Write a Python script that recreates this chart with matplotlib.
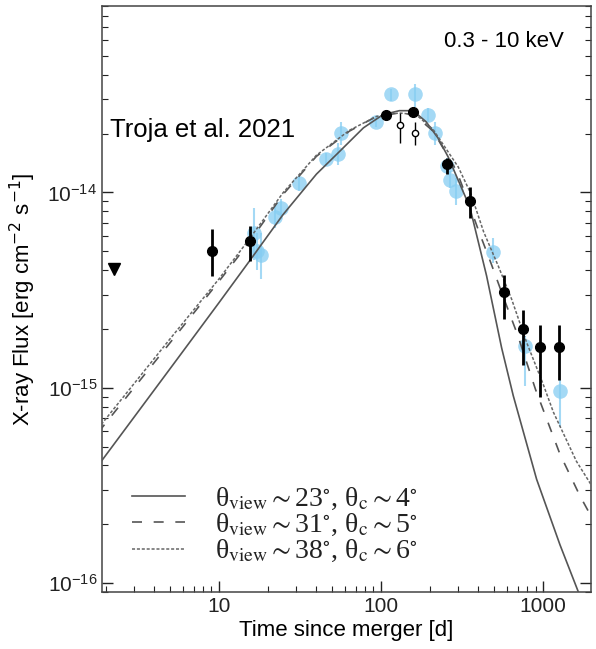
import matplotlib
matplotlib.use("Agg")
import matplotlib.pyplot as plt
from matplotlib.ticker import NullFormatter
import numpy as np

plt.rcParams["font.family"] = ["Liberation Sans", "DejaVu Sans"]

# ---- data ----
# model curves (time [d], flux)
t_solid = [1.8, 5.35, 10, 15.5, 24.9, 40, 56, 78, 103, 130, 158, 190, 225, 260, 354, 449, 556, 656, 914, 1274, 1700]
f_solid = [4.0e-16, 1.35e-15, 2.72e-15, 4.47e-15, 7.7e-15, 1.24e-14, 1.63e-14, 2.14e-14, 2.5e-14, 2.62e-14,
           2.62e-14, 2.3e-14, 1.9e-14, 1.52e-14, 8.4e-15, 3.74e-15, 1.6e-15, 9.1e-16, 3.4e-16, 1.57e-16, 8.5e-17]

t_dash = [1.8, 5, 10, 15, 25, 40, 64, 94, 130, 160, 210, 293, 340, 400, 480, 580, 700, 900, 1270, 1690, 2000]
f_dash = [5.9e-16, 1.7e-15, 3.5e-15, 5.4e-15, 9.8e-15, 1.53e-14, 2.06e-14, 2.45e-14, 2.55e-14, 2.5e-14,
          2.06e-14, 1.29e-14, 9.3e-15, 6.4e-15, 4.3e-15, 2.8e-15, 1.85e-15, 9.8e-16, 4.6e-16, 2.8e-16, 2.17e-16]

t_dot = [1.8, 5, 10, 15, 25, 40, 64, 94, 130, 165, 210, 300, 360, 430, 530, 640, 790, 1000, 1160, 1610, 2000]
f_dot = [6.2e-16, 1.78e-15, 3.6e-15, 5.6e-15, 1.0e-14, 1.55e-14, 2.08e-14, 2.45e-14, 2.55e-14, 2.5e-14,
         2.1e-14, 1.35e-14, 9.8e-15, 6.3e-15, 4.2e-15, 2.85e-15, 1.72e-15, 1.05e-15, 7.5e-16, 4.2e-16, 3.15e-16]

model_labels = [
    r"θ$_{\rm view}\sim$23$^{\circ}$, θ$_{\rm c}\sim$4$^{\circ}$",
    r"θ$_{\rm view}\sim$31$^{\circ}$, θ$_{\rm c}\sim$5$^{\circ}$",
    r"θ$_{\rm view}\sim$38$^{\circ}$, θ$_{\rm c}\sim$6$^{\circ}$",
]

# light blue points (other data set)
t_blue = [16.4, 17.1, 18.3, 22.2, 24.2, 31.2, 46, 54.6, 56.5, 93, 115, 163, 195, 216, 257, 266, 290, 489, 776, 1282]
f_blue = [6.2e-15, 5.0e-15, 4.8e-15, 7.5e-15, 8.3e-15, 1.12e-14, 1.48e-14, 1.57e-14, 2.02e-14, 2.3e-14,
          3.18e-14, 3.18e-14, 2.49e-14, 2.01e-14, 1.36e-14, 1.16e-14, 1.02e-14, 4.94e-15, 1.64e-15, 9.6e-16]
f_blue_lo = [4.5e-15, 4.0e-15, 3.6e-15, 6.6e-15, 7.3e-15, 1.02e-14, 1.36e-14, 1.38e-14, 1.75e-14, 2.15e-14,
             2.95e-14, 2.75e-14, 2.3e-14, 1.75e-14, 1.25e-14, 1.05e-14, 8.6e-15, 4.36e-15, 1.02e-15, 6.3e-16]
f_blue_hi = [8.3e-15, 6.2e-15, 6.2e-15, 8.5e-15, 9.3e-15, 1.22e-14, 1.6e-14, 1.8e-14, 2.3e-14, 2.45e-14,
             3.4e-14, 3.6e-14, 2.7e-14, 2.3e-14, 1.5e-14, 1.28e-14, 1.18e-14, 5.85e-15, 1.85e-15, 1.1e-15]

# black points
t_blk = [9.1, 15.6, 108, 157, 257, 356, 574, 757, 966, 1264]
f_blk = [5.0e-15, 5.62e-15, 2.49e-14, 2.59e-14, 1.40e-14, 9.0e-15, 3.1e-15, 2.01e-15, 1.61e-15, 1.61e-15]
f_blk_lo = [3.73e-15, 4.45e-15, 2.35e-14, 2.45e-14, 1.24e-14, 7.4e-15, 2.24e-15, 1.31e-15, 9.0e-16, 1.1e-15]
f_blk_hi = [6.5e-15, 6.76e-15, 2.64e-14, 2.74e-14, 1.5e-14, 1.06e-14, 3.76e-15, 2.51e-15, 2.1e-15, 2.1e-15]

# open circles
t_open = [132, 163]
f_open = [2.21e-14, 2.01e-14]
f_open_lo = [1.8e-14, 1.75e-14]
f_open_hi = [2.54e-14, 2.3e-14]

# upper limit
t_ul = [2.25]
f_ul = [4.03e-15]

# ---- plot ----
fig = plt.figure(figsize=(5.96, 6.49), dpi=100)
ax = fig.add_axes([102 / 596, 1 - 592 / 649, 489 / 596, 586 / 649])

blue = "#86cdf2"
ax.errorbar(t_blue, f_blue,
            yerr=[np.array(f_blue) - np.array(f_blue_lo), np.array(f_blue_hi) - np.array(f_blue)],
            fmt="o", ms=10.5, color=blue, ecolor=blue, elinewidth=1.5, capsize=0,
            alpha=0.75, mec="none", zorder=2)

line_col = "#555555"
l1, = ax.plot(t_solid, f_solid, "-", color=line_col, lw=1.2, zorder=3)
l2, = ax.plot(t_dash, f_dash, color=line_col, lw=1.2, dashes=(6, 7), zorder=3)
l3, = ax.plot(t_dot, f_dot, color="#666666", lw=1.1, dashes=(2, 1.2), zorder=3)

ax.errorbar(t_blk, f_blk,
            yerr=[np.array(f_blk) - np.array(f_blk_lo), np.array(f_blk_hi) - np.array(f_blk)],
            fmt="o", ms=7, color="black", elinewidth=2, capsize=0, zorder=5)
ax.errorbar(t_open, f_open,
            yerr=[np.array(f_open) - np.array(f_open_lo), np.array(f_open_hi) - np.array(f_open)],
            fmt="o", ms=4.5, mfc="white", mec="black", mew=1, color="black",
            elinewidth=1, capsize=0, zorder=5)
ax.plot(t_ul, f_ul, "v", color="black", ms=9, zorder=5)

ax.set_xscale("log")
ax.set_yscale("log")
ax.set_xlim(1.9, 1980)
ax.set_ylim(9e-17, 9e-14)

ax.set_xticks([10, 100, 1000])
ax.set_xticklabels(["10", "100", "1000"])
ax.xaxis.set_minor_formatter(NullFormatter())
ax.yaxis.set_minor_formatter(NullFormatter())

ax.tick_params(which="both", direction="in", left=True, right=True, bottom=True, top=False,
               labelsize=15, colors="#222222")
ax.tick_params(which="major", length=8, width=1)
ax.tick_params(which="minor", length=4.5, width=0.8)
for s in ax.spines.values():
    s.set_color("#444444")
    s.set_linewidth(1.1)

ax.set_xlabel("Time since merger [d]", fontsize=16, labelpad=3)
ax.set_ylabel(r"X-ray Flux [erg cm$^{-2}$ s$^{-1}$]", fontsize=16, labelpad=7)

ax.text(0.016, 0.788, "Troja et al. 2021", transform=ax.transAxes, fontsize=18.5,
        ha="left", va="center")
ax.text(0.945, 0.94, "0.3 - 10 keV", transform=ax.transAxes, fontsize=16,
        ha="right", va="center")

leg = ax.legend([l1, l2, l3], model_labels, loc="center left", bbox_to_anchor=(0.061, 0.114),
                frameon=False, prop={"family": "Liberation Serif", "size": 20},
                handlelength=1.9, handletextpad=1.1,
                labelspacing=0.0, borderpad=0, borderaxespad=0)
for txt in leg.get_texts():
    txt.set_math_fontfamily("stix")
    txt.set_color("#222222")

fig.savefig("out.png", dpi=100)
